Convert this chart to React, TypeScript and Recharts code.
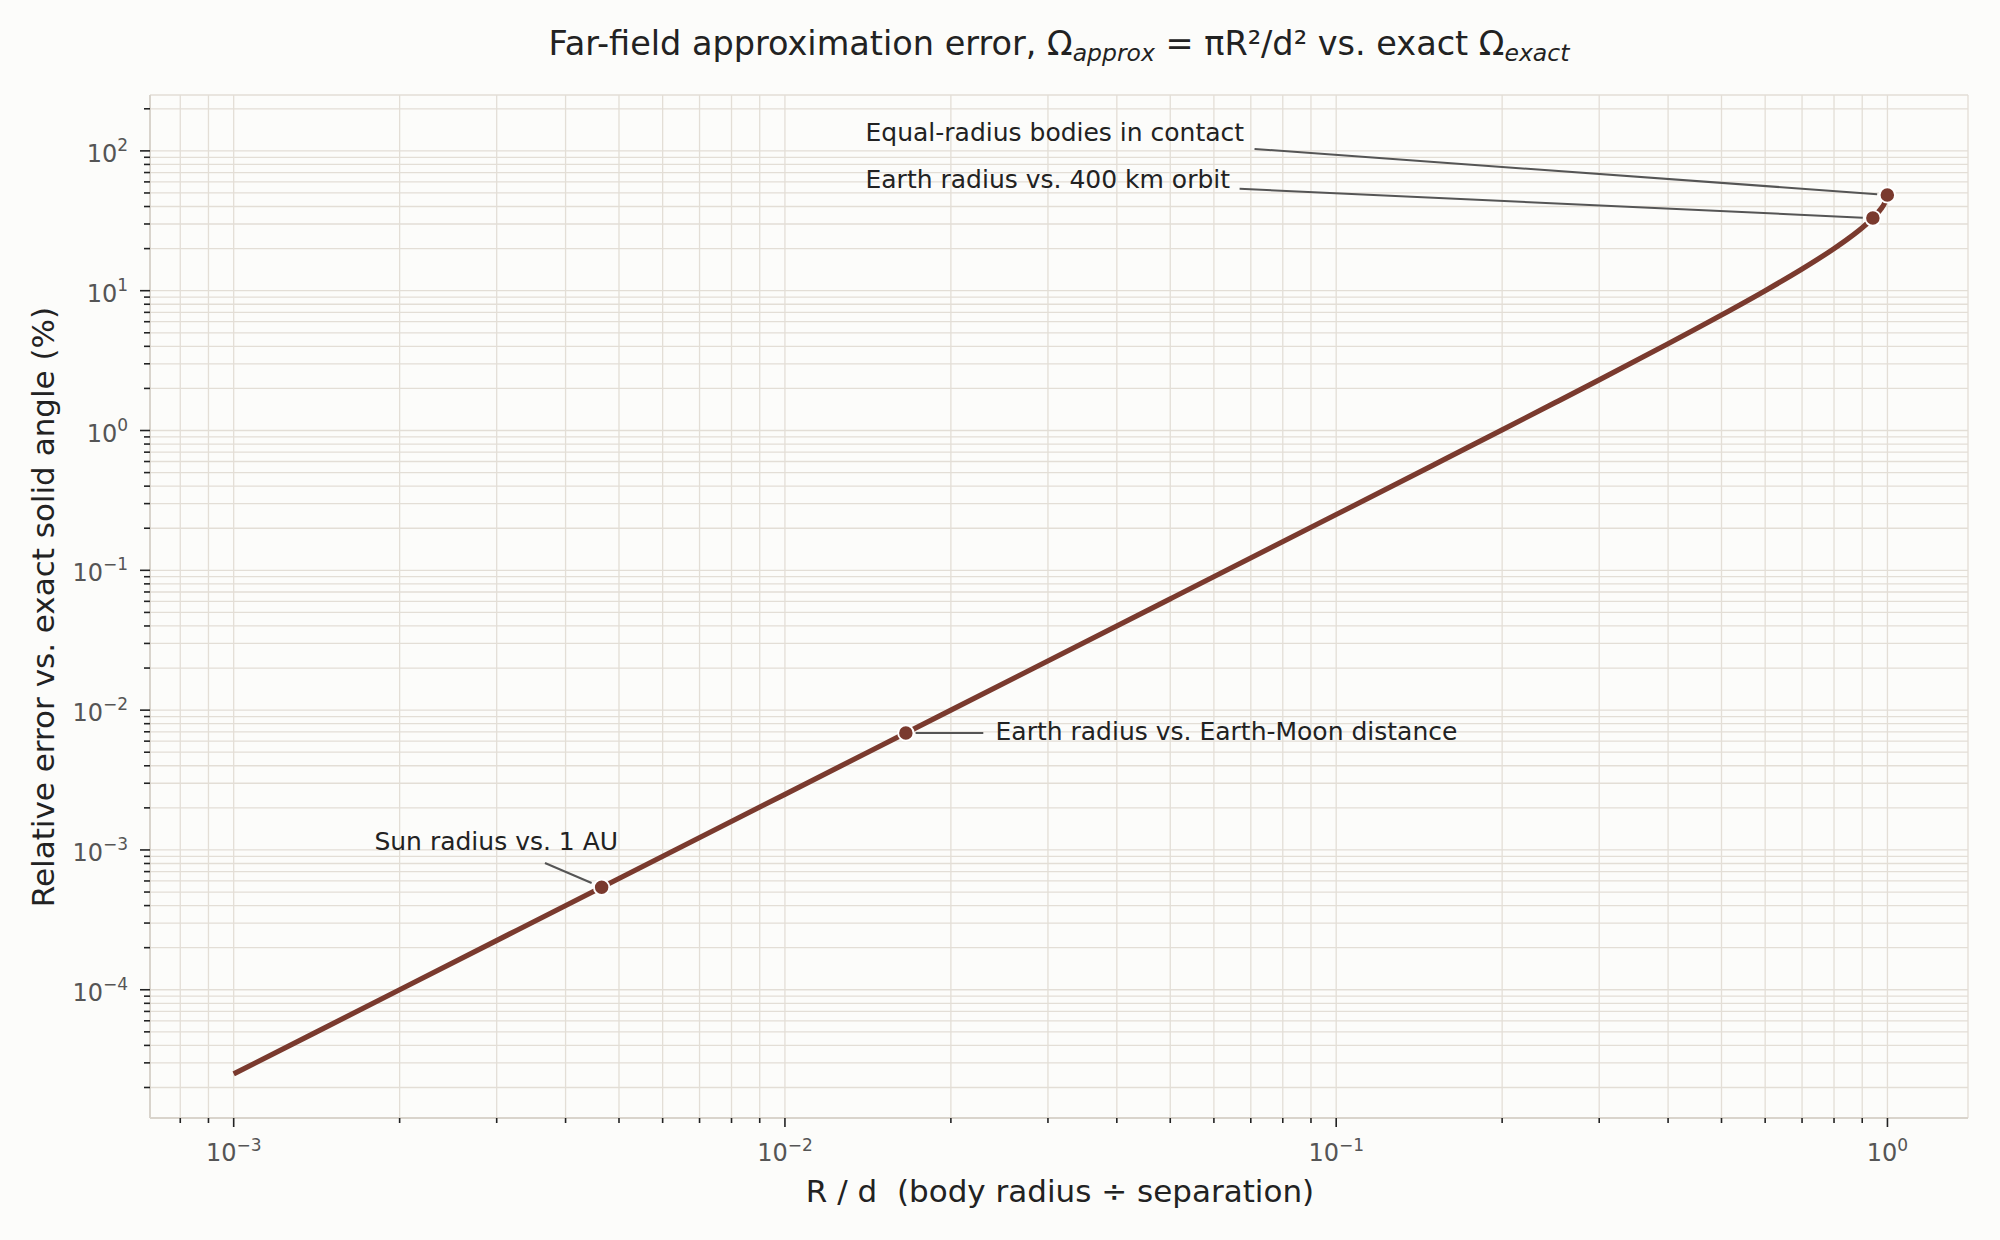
import React from "react";
import {
  ComposedChart,
  Line,
  Scatter,
  XAxis,
  YAxis,
  CartesianGrid,
  ReferenceLine,
} from "recharts";

const ratio = [
  0.001, 0.002, 0.005, 0.01, 0.02, 0.05, 0.1, 0.15, 0.2, 0.25, 0.3, 0.4, 0.5,
  0.6, 0.7, 0.8, 0.85, 0.9, 0.9409, 0.97, 0.99, 0.9995,
];
const errorPct = [
  2.5e-5, 1.0e-4, 6.25e-4, 2.5e-3, 0.01, 0.0625, 0.2506, 0.5657, 1.01, 1.588,
  2.303, 4.174, 6.699, 10.0, 14.29, 20.0, 23.66, 28.21, 33.07, 37.84, 42.95,
  48.4,
];

// highlighted cases
const caseNames = [
  "Sun radius vs. 1 AU",
  "Earth radius vs. Earth-Moon distance",
  "Earth radius vs. 400 km orbit",
  "Equal-radius bodies in contact",
];
const caseRatio = [0.00465, 0.01657, 0.9409, 0.9995];
const caseError = [5.41e-4, 6.87e-3, 33.07, 48.4];

// annotation text anchors and leader lines, in data units
const noteX = [0.0018, 0.0241, 0.014, 0.014];
const noteY = [1.0e-3, 6.12e-3, 54.4, 118];
const leaderFrom = [
  [0.00367, 8.07e-4],
  [0.01726, 6.87e-3],
  [0.0668, 53.5],
  [0.0711, 103.3],
];
const leaderTo = [
  [0.00446, 5.8e-4],
  [0.0229, 6.87e-3],
  [0.902, 33.3],
  [0.958, 49.0],
];

const X_DOMAIN = [7.05e-4, 1.4];
const Y_DOMAIN = [1.21e-5, 251];
const xDecades = [1e-4, 1e-3, 1e-2, 1e-1, 1];
const yDecades = [1e-5, 1e-4, 1e-3, 1e-2, 1e-1, 1, 10, 100];
const minorSteps = [1, 2, 3, 4, 5, 6, 7, 8, 9];

const buildTicks = (decades: number[], dom: number[]) =>
  decades
    .flatMap((d) => minorSteps.map((m) => +(m * d).toPrecision(6)))
    .filter((v) => v >= dom[0] && v <= dom[1]);

const xTicks = buildTicks(xDecades, X_DOMAIN);
const yTicks = buildTicks(yDecades, Y_DOMAIN);

const curve = ratio.map((x, i) => ({ x, y: errorPct[i] }));
const cases = caseRatio.map((x, i) => ({ x, y: caseError[i] }));
const notes = caseNames.map((text, i) => ({ x: noteX[i], y: noteY[i], text }));

const FONT = "DejaVu Sans";
const LINE = "#7a3a2e";
const GRID = "#e3ded6";
const SPINE = "#d9d4cc";

const exponentOf = (v: number) => {
  const l = Math.log10(v);
  return Math.abs(l - Math.round(l)) < 1e-6 ? Math.round(l) : null;
};

const expText = (e: number) => (e < 0 ? "\u2212" + Math.abs(e) : String(e));

const XTick = (props: any) => {
  const { x, y, payload } = props;
  const e = exponentOf(payload.value);
  return (
    <g>
      <line x1={x} x2={x} y1={y} y2={y + (e === null ? 5 : 9)} stroke="#222" strokeWidth={1.6} />
      {e !== null && (
        <text x={x} y={y + 43} textAnchor="middle" fontFamily={FONT} fontSize={24} fill="#555">
          <tspan>10</tspan>
          <tspan dy={-10} fontSize={17}>
            {expText(e)}
          </tspan>
        </text>
      )}
    </g>
  );
};

const YTick = (props: any) => {
  const { x, y, payload } = props;
  const e = exponentOf(payload.value);
  return (
    <g>
      <line x1={x - (e === null ? 6 : 10)} x2={x} y1={y} y2={y} stroke="#222" strokeWidth={1.6} />
      {e !== null && (
        <text x={x - 22} y={y + 11} textAnchor="end" fontFamily={FONT} fontSize={24} fill="#555">
          <tspan>10</tspan>
          <tspan dy={-11} fontSize={17}>
            {expText(e)}
          </tspan>
        </text>
      )}
    </g>
  );
};

const CaseDot = (props: any) => (
  <circle cx={props.cx} cy={props.cy} r={7.7} fill={LINE} stroke="#ffffff" strokeWidth={1.9} />
);

const NoteText = (props: any) => (
  <text x={props.cx} y={props.cy} fontFamily={FONT} fontSize={25} fill="#222">
    {props.payload.text}
  </text>
);

export default function App() {
  return (
    <div
      style={{
        position: "absolute",
        left: 0,
        top: 0,
        width: 2000,
        height: 1240,
        background: "#fcfcfa",
      }}
    >
      <ComposedChart
        width={2000}
        height={1240}
        margin={{ top: 95, right: 32, bottom: 0, left: 0 }}
      >
        <CartesianGrid stroke={GRID} strokeWidth={1.3} />
        <XAxis
          dataKey="x"
          type="number"
          scale="log"
          domain={X_DOMAIN}
          allowDataOverflow
          ticks={xTicks}
          interval={0}
          height={122}
          tickSize={0}
          tickMargin={0}
          tickLine={false}
          tick={<XTick />}
          axisLine={{ stroke: SPINE, strokeWidth: 2 }}
        />
        <YAxis
          dataKey="y"
          type="number"
          scale="log"
          domain={Y_DOMAIN}
          allowDataOverflow
          ticks={yTicks}
          interval={0}
          width={150}
          tickSize={0}
          tickMargin={0}
          tickLine={false}
          tick={<YTick />}
          axisLine={{ stroke: SPINE, strokeWidth: 2 }}
        />
        <Line
          data={curve}
          dataKey="y"
          type="monotone"
          stroke={LINE}
          strokeWidth={5.2}
          dot={false}
          activeDot={false}
          isAnimationActive={false}
        />
        {leaderFrom.map((p, i) => (
          <ReferenceLine
            key={i}
            segment={[
              { x: p[0], y: p[1] },
              { x: leaderTo[i][0], y: leaderTo[i][1] },
            ]}
            stroke="#555"
            strokeWidth={2}
            ifOverflow="visible"
          />
        ))}
        <Scatter data={cases} shape={<CaseDot />} isAnimationActive={false} />
        <Scatter data={notes} shape={<NoteText />} isAnimationActive={false} />
      </ComposedChart>
      <svg
        width={2000}
        height={1240}
        style={{ position: "absolute", left: 0, top: 0, pointerEvents: "none" }}
      >
        <text x={1059} y={55} textAnchor="middle" fontFamily={FONT} fontSize={33.5} fill="#222">
          Far-field approximation error, Ω
          <tspan fontStyle="italic" fontSize={23.5} dy={6}>
            approx
          </tspan>
          <tspan dy={-6}>{" = πR²/d² vs. exact Ω"}</tspan>
          <tspan fontStyle="italic" fontSize={23.5} dy={6}>
            exact
          </tspan>
        </text>
        <text
          x={1060}
          y={1202}
          textAnchor="middle"
          fontFamily={FONT}
          fontSize={31}
          fill="#222"
          style={{ whiteSpace: "pre" }}
        >
          {"R / d  (body radius ÷ separation)"}
        </text>
        <text
          x={0}
          y={0}
          transform="translate(54 607) rotate(-90)"
          textAnchor="middle"
          fontFamily={FONT}
          fontSize={31}
          fill="#222"
        >
          Relative error vs. exact solid angle (%)
        </text>
      </svg>
    </div>
  );
}
